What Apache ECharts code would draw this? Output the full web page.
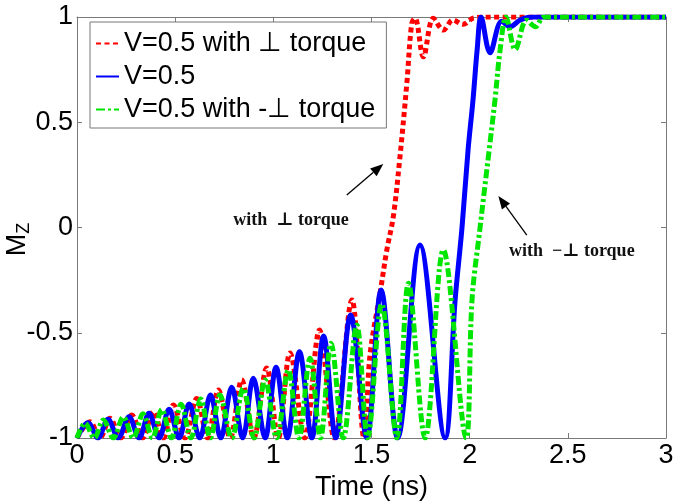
<!DOCTYPE html>
<html><head><meta charset="utf-8">
<script src="https://cdn.jsdelivr.net/npm/echarts@6/dist/echarts.min.js"></script>
<style>html,body{margin:0;padding:0;background:#fff}#c{width:675px;height:503px}</style>
</head><body><div id="c"></div>
<script>
// ---- data (time in ns, Mz) ----
const xTicks = [0, 0.5, 1, 1.5, 2, 2.5, 3];
const yTicks = [-1, -0.5, 0, 0.5, 1];
const seriesNames = ['V=0.5 with \u22a5 torque', 'V=0.5', 'V=0.5 with -\u22a5 torque'];

const tRed  = [0, 0.066, 0.117, 0.168, 0.223, 0.279, 0.334, 0.389, 0.44, 0.491, 0.55, 0.61, 0.665, 0.72, 0.78, 0.839, 0.9, 0.966, 1.025, 1.085, 1.16, 1.235, 1.31, 1.40, 1.462, 1.493, 1.544, 1.578, 1.611, 1.645, 1.68, 1.705, 1.722, 1.764, 1.815, 1.866, 1.915, 1.966, 2.02, 2.1, 3];
const mzRed = [-1, -0.923, -1, -0.906, -1, -0.891, -1, -0.875, -1, -0.843, -1, -0.812, -1, -0.772, -1, -0.724, -1, -0.667, -1, -0.596, -1, -0.487, -1, -0.344, -1, -0.6, -0.31, -0.107, 0.051, 0.336, 0.685, 0.97, 0.994, 0.811, 0.994, 0.938, 0.986, 0.965, 0.995, 1, 1];

const tBlue  = [0, 0.056, 0.107, 0.158, 0.21, 0.265, 0.316, 0.367, 0.418, 0.469, 0.52, 0.571, 0.625, 0.68, 0.732, 0.788, 0.844, 0.898, 0.958, 1.014, 1.071, 1.133, 1.196, 1.256, 1.318, 1.394, 1.476, 1.549, 1.633, 1.747, 1.875, 1.926, 1.961, 1.992, 2.017, 2.038, 2.058, 2.104, 2.163, 2.206, 2.257, 2.32, 3];
const mzBlue = [-1, -0.927, -1, -0.911, -1, -0.899, -1, -0.883, -1, -0.864, -1, -0.838, -1, -0.796, -1, -0.759, -1, -0.716, -1, -0.664, -1, -0.59, -1, -0.515, -1, -0.416, -1, -0.297, -1, -0.083, -1, -0.344, 0, 0.37, 0.606, 0.843, 1, 0.83, 0.98, 0.954, 0.986, 1, 1];

const tGreen  = [0, 0.041, 0.088, 0.134, 0.185, 0.236, 0.286, 0.336, 0.384, 0.432, 0.481, 0.53, 0.58, 0.63, 0.679, 0.728, 0.788, 0.847, 0.902, 0.958, 1.017, 1.076, 1.13, 1.187, 1.24, 1.294, 1.356, 1.425, 1.48, 1.552, 1.629, 1.688, 1.773, 1.866, 1.982, 2.012, 2.053, 2.099, 2.129, 2.155, 2.185, 2.232, 2.29, 2.335, 2.38, 3];
const mzGreen = [-1, -0.93, -1, -0.915, -1, -0.9, -1, -0.885, -1, -0.865, -1, -0.84, -1, -0.815, -1, -0.796, -1, -0.764, -1, -0.724, -1, -0.677, -1, -0.621, -1, -0.55, -1, -0.463, -1, -0.363, -1, -0.265, -1, -0.107, -1, -0.344, 0, 0.366, 0.606, 0.843, 1, 0.845, 0.985, 0.954, 1, 1];

// annotations (data coords)
const noteText = ['with  \u22a5 torque', 'with  \u2212\u22a5 torque'];
const noteAt = [[1.09, 0.036], [2.52, -0.112]];
const arrowFrom = [[1.374, 0.154], [2.291, -0.036]];
const arrowTo = [[1.560, 0.302], [2.146, 0.150]];

const zip = (a, b) => a.map((v, i) => [v, b[i]]);
const chart = echarts.init(document.getElementById('c'), null, {renderer: 'canvas'});
const FONT = 'Liberation Sans, Arial, sans-serif';
const FS = 27;
const axisGray = '#7a7a7a';

function lineSeries(name, data, color, type, z) {
  return {
    name, type: 'line', data, smooth: 0.35, showSymbol: false, symbol: 'none',
    lineStyle: {color, width: 5, type}, itemStyle: {color}, z, animation: false, clip: true
  };
}

const series = [
  lineSeries(seriesNames[0], zip(tRed, mzRed), '#ff0000', [5, 3.5], 2),
  lineSeries(seriesNames[1], zip(tBlue, mzBlue), '#0000ff', 'solid', 3),
  lineSeries(seriesNames[2], zip(tGreen, mzGreen), '#00e600', [9, 3, 3, 3], 4)
];

const baseX = {type: 'value', min: 0, max: 3, interval: 0.5, splitLine: {show: false},
  axisLine: {show: true, onZero: false, lineStyle: {color: axisGray, width: 1}},
  axisTick: {show: true, inside: true, length: 5, lineStyle: {color: axisGray}}};
const baseY = {type: 'value', min: -1, max: 1, interval: 0.5, splitLine: {show: false},
  axisLine: {show: true, onZero: false, lineStyle: {color: axisGray, width: 1}},
  axisTick: {show: true, inside: true, length: 5, lineStyle: {color: axisGray}}};

chart.setOption({
  backgroundColor: '#fff',
  animation: false,
  grid: {left: 77, right: 9, top: 17, bottom: 65, containLabel: false, outerBoundsMode: 'none'},
  legend: {
    data: seriesNames, orient: 'vertical', left: 90, top: 22,
    itemWidth: 23, itemHeight: 12, itemGap: 6,
    padding: [8, 11, 5, 5],
    backgroundColor: '#fff', borderColor: '#777', borderWidth: 1,
    itemStyle: {opacity: 0},
    textStyle: {fontFamily: FONT, fontSize: FS, color: '#000'}
  },
  xAxis: [
    Object.assign({}, baseX, {position: 'bottom', name: 'Time (ns)', nameLocation: 'middle', nameGap: 36, nameMoveOverlap: false,
      nameTextStyle: {fontFamily: FONT, fontSize: FS, color: '#000'},
      axisLabel: {show: true, fontFamily: FONT, fontSize: FS, color: '#000', margin: 4, formatter: v => String(v)}}),
    Object.assign({}, baseX, {position: 'top', axisLabel: {show: false}})
  ],
  yAxis: [
    Object.assign({}, baseY, {position: 'left', name: '{m|M}{s|Z}', nameLocation: 'middle', nameGap: 44, nameRotate: 90, nameMoveOverlap: false,
      nameTextStyle: {fontFamily: FONT, color: '#000', padding: [0, 24, 0, 0], rich: {
        m: {fontFamily: FONT, fontSize: FS, color: '#000'},
        s: {fontFamily: FONT, fontSize: 18, color: '#000', padding: [12, 0, 0, 0]}}},
      axisLabel: {show: true, fontFamily: FONT, fontSize: FS, color: '#000', margin: 4, formatter: v => String(v)}}),
    Object.assign({}, baseY, {position: 'right', axisLabel: {show: false}})
  ],
  series
});

// annotation arrows and labels, placed through the axes' own scales
const px = c => chart.convertToPixel({xAxisIndex: 0, yAxisIndex: 0}, c);
const graphics = [];
arrowFrom.forEach((f, i) => {
  const a = px(f), b = px(arrowTo[i]);
  const ang = Math.atan2(b[1] - a[1], b[0] - a[0]);
  const L = 13, W = 5;
  const bx = b[0] - L * Math.cos(ang), by = b[1] - L * Math.sin(ang);
  const nx = -Math.sin(ang) * W, ny = Math.cos(ang) * W;
  graphics.push({type: 'line', shape: {x1: a[0], y1: a[1], x2: bx, y2: by}, style: {stroke: '#000', lineWidth: 1.3}, z: 20});
  graphics.push({type: 'polygon', shape: {points: [[b[0], b[1]], [bx + nx, by + ny], [bx - nx, by - ny]]}, style: {fill: '#000'}, z: 20});
});
noteAt.forEach((c, i) => {
  const p = px(c);
  graphics.push({type: 'text', x: p[0], y: p[1], z: 20, style: {text: noteText[i], align: 'center', verticalAlign: 'middle',
    font: 'bold 18px "Liberation Serif", "DejaVu Serif", serif', fill: '#111'}});
});
chart.setOption({graphic: graphics});
</script></body></html>
